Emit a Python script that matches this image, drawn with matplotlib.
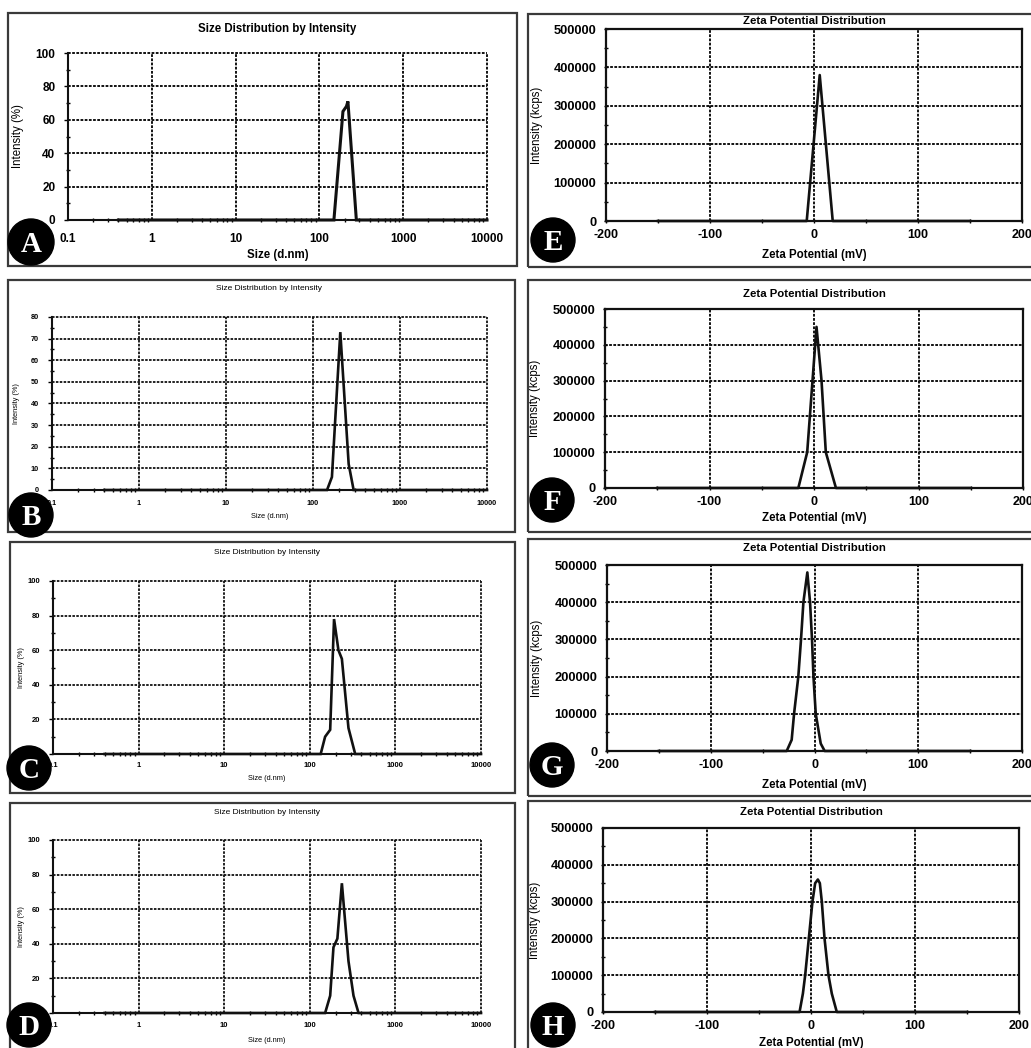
import matplotlib
matplotlib.use("Agg")
import matplotlib.pyplot as plt
from matplotlib.patches import Rectangle, Ellipse
from matplotlib.ticker import FixedLocator, MultipleLocator, LogLocator, NullFormatter, FuncFormatter

plt.rcParams['font.family'] = ['Liberation Sans', 'DejaVu Sans']
plt.rcParams['axes.unicode_minus'] = False

# ---------------- data ----------------
# Size distribution by intensity (DLS): hydrodynamic diameter (d.nm) vs intensity (%)
size_A = [0.4, 149, 191, 210, 219, 276, 10000]
int_A = [0, 0, 65, 68, 71, 0, 0]

size_B = [0.4, 145, 165, 206, 257, 293, 10000]
int_B = [0, 0, 6, 73, 12, 0, 0]

size_C = [0.4, 134, 151, 173, 192, 216, 237, 283, 339, 10000]
int_C = [0, 0, 10, 14, 78, 60, 55, 15, 0, 0]

size_D = [0.4, 151, 173, 189, 210, 237, 283, 324, 371, 10000]
int_D = [0, 0, 10, 38, 43, 75, 30, 10, 0, 0]

# Zeta potential distribution: zeta potential (mV) vs intensity (kcps)
zeta_E = [-150, -7, 5.5, 18, 150]
kcps_E = [0, 0, 380000, 0, 0]

zeta_F = [-150, -15, -6.5, 2.4, 7.2, 11.3, 21, 150]
kcps_F = [0, 0, 100000, 450000, 300000, 100000, 0, 0]

zeta_G = [-150, -26.8, -22, -19.7, -15.6, -13, -10.7, -6.9, -4.3, -2.4, -1, 1.2, 6, 9.8, 150]
kcps_G = [0, 0, 30000, 100000, 200000, 300000, 400000, 480000, 400000, 300000, 200000,
          100000, 20000, 0, 0]

zeta_H = [-150, -11, -7.8, -5.6, -2.1, 1.4, 4, 6.6, 8.5, 10.4, 13, 16.8, 20, 24.8, 150]
kcps_H = [0, 0, 50000, 100000, 200000, 300000, 350000, 360000, 350000, 300000, 200000,
          100000, 50000, 0, 0]

size_ticks = [0.1, 1, 10, 100, 1000, 10000]
size_tick_labels = ['0.1', '1', '10', '100', '1000', '10000']
zeta_ticks = [-200, -100, 0, 100, 200]
zeta_tick_labels = ['-200', '-100', '0', '100', '200']

# ---------------- figure ----------------
W, H = 1031, 1048
fig = plt.figure(figsize=(W / 100, H / 100), dpi=100)
fig.patch.set_facecolor('white')

INK = '#111111'
GRID_DASH = (0, (1.4, 0.75))


def add_axes_px(l, t, r, b):
    return fig.add_axes([l / W, 1 - b / H, (r - l) / W, (b - t) / H])


def frame(l, t, r, b):
    fig.add_artist(Rectangle((l / W, 1 - b / H), (r - l) / W, (b - t) / H,
                             transform=fig.transFigure, fill=False,
                             ec='#3a3a3a', lw=1.6, zorder=5))


def badge(cx, cy, letter, r=22, fs=21):
    fig.add_artist(Ellipse((cx / W, 1 - cy / H), 2 * r / W, 2 * r / H,
                           transform=fig.transFigure, fc='black', ec='black',
                           zorder=20))
    cap = fs * 100 / 72 * 0.66
    fig.text(cx / W, 1 - (cy + cap / 2) / H, letter, color='white',
             family=['Liberation Serif', 'DejaVu Serif'], weight='bold',
             size=fs, ha='center', va='baseline', zorder=21)


def unclip_grid(ax):
    # keep the gridlines that sit on the plot edges at full width
    for line in ax.get_xgridlines() + ax.get_ygridlines():
        line.set_clip_on(False)


def place_labels(ax, l, t, r, b, title, title_y, title_fs, title_w,
                 xlabel, xlabel_y, ylabel, ylabel_x, lab_fs, xlab_w, ylab_w):
    ax.set_title(title, fontsize=title_fs, weight=title_w,
                 y=(b - title_y) / (b - t), va='center', pad=0)
    ax.set_xlabel(xlabel, fontsize=lab_fs, weight=xlab_w, va='center')
    ax.xaxis.set_label_coords(0.5, (b - xlabel_y) / (b - t))
    ax.set_ylabel(ylabel, fontsize=lab_fs, weight=ylab_w, va='center')
    ax.yaxis.set_label_coords((ylabel_x - l) / (r - l), 0.5)


def size_panel(axbox, sizes, intens, ymax, ystep, yminor, tick_fs, lw, grid_lw,
               xpad, ypad, title_y, title_fs, title_w, xlabel_y, ylabel_x,
               lab_fs, xlab_w):
    l, t, r, b = axbox
    ax = add_axes_px(l, t, r, b)
    ax.set_xscale('log')
    ax.set_xlim(0.1, 10000)
    ax.set_ylim(0, ymax)
    ax.plot(sizes, intens, color=INK, lw=lw, solid_joinstyle='miter', zorder=4,
            clip_on=False)
    ax.xaxis.set_major_locator(FixedLocator(size_ticks))
    ax.set_xticklabels(size_tick_labels)
    ax.xaxis.set_minor_locator(LogLocator(base=10, subs=[2, 3, 4, 5, 6, 7, 8, 9]))
    ax.xaxis.set_minor_formatter(NullFormatter())
    ax.yaxis.set_major_locator(MultipleLocator(ystep))
    ax.yaxis.set_minor_locator(MultipleLocator(yminor))
    ax.tick_params(axis='x', which='major', length=0, pad=xpad, labelsize=tick_fs)
    ax.tick_params(axis='y', which='major', length=3, width=1.0, direction='out',
                   pad=ypad, labelsize=tick_fs)
    ax.tick_params(which='minor', length=2.5, width=1.0, direction='inout')
    for lab in ax.get_xticklabels() + ax.get_yticklabels():
        lab.set_fontweight('bold')
    ax.grid(which='major', ls=GRID_DASH, lw=grid_lw, color=INK)
    unclip_grid(ax)
    for s in ('top', 'right'):
        ax.spines[s].set_visible(False)
    for s in ('left', 'bottom'):
        ax.spines[s].set_linewidth(1.5)
        ax.spines[s].set_color(INK)
    place_labels(ax, l, t, r, b, 'Size Distribution by Intensity', title_y,
                 title_fs, title_w, 'Size (d.nm)', xlabel_y, 'Intensity (%)',
                 ylabel_x, lab_fs, xlab_w, 'normal')
    return ax


def zeta_panel(axbox, zeta, kcps, title_y, xlabel_y, ylabel_x):
    l, t, r, b = axbox
    ax = add_axes_px(l, t, r, b)
    ax.set_xlim(-200, 200)
    ax.set_ylim(0, 500000)
    ax.plot(zeta, kcps, color=INK, lw=1.9, zorder=4, clip_on=False)
    ax.xaxis.set_major_locator(FixedLocator(zeta_ticks))
    ax.set_xticklabels(zeta_tick_labels)
    ax.xaxis.set_minor_locator(MultipleLocator(50))
    ax.yaxis.set_major_locator(MultipleLocator(100000))
    ax.yaxis.set_minor_locator(MultipleLocator(50000))
    ax.yaxis.set_major_formatter(FuncFormatter(lambda v, p: f'{int(round(v))}'))
    ax.tick_params(axis='x', which='major', length=3, width=1.0, direction='inout',
                   pad=4.5, labelsize=9)
    ax.tick_params(axis='y', which='major', length=3, width=1.0, direction='inout',
                   pad=5.5, labelsize=9.3)
    ax.tick_params(which='minor', length=2.5, width=1.0, direction='inout')
    for lab in ax.get_xticklabels() + ax.get_yticklabels():
        lab.set_fontweight('bold')
    ax.grid(which='major', ls=GRID_DASH, lw=1.4, color=INK)
    for s in ax.spines.values():
        s.set_linewidth(1.6)
        s.set_color(INK)
    place_labels(ax, l, t, r, b, 'Zeta Potential Distribution', title_y, 8.2,
                 'bold', 'Zeta Potential (mV)', xlabel_y, 'Intensity (kcps)',
                 ylabel_x, 8.3, 'bold', 'normal')
    return ax


# ---------------- left column: size distributions ----------------
frame(8, 13, 517, 266)
size_panel((68, 53, 487, 220), size_A, int_A, 100, 20, 10, 8.5, 2.2, 1.4,
           9.0, 6.0, 29, 8.3, 'bold', 255, 18, 8.3, 'bold')
badge(31, 242, 'A', r=23)

frame(8, 280, 515, 532)
size_panel((52, 317, 487, 490), size_B, int_B, 80, 10, 5, 5.2, 1.9, 1.3,
           7.0, 6.5, 289, 6.0, 'normal', 517, 16, 5.3, 'normal')
badge(31, 515, 'B')

frame(10, 542, 515, 793)
size_panel((53, 581, 481, 754), size_C, int_C, 100, 20, 10, 5.5, 1.9, 1.3,
           6.0, 6.0, 553, 6.0, 'normal', 779, 21, 5.3, 'normal')
badge(29, 768, 'C')

frame(10, 803, 515, 1052)
size_panel((53, 840, 481, 1013), size_D, int_D, 100, 20, 10, 5.5, 1.9, 1.3,
           6.5, 6.0, 812, 6.0, 'normal', 1040, 21, 5.3, 'normal')
badge(29, 1025, 'D')

# ---------------- right column: zeta potential ----------------
frame(528, 14, 1040, 267)
zeta_panel((606, 29, 1022, 221), zeta_E, kcps_E, 21, 255, 537)
badge(553, 240, 'E')

frame(528, 280, 1040, 532)
zeta_panel((605, 309, 1023, 488), zeta_F, kcps_F, 294, 518, 535)
badge(552, 500, 'F')

frame(528, 539, 1040, 796)
zeta_panel((607, 565, 1022, 751), zeta_G, kcps_G, 548, 785, 537)
badge(552, 765, 'G')

frame(528, 801, 1040, 1052)
zeta_panel((603, 828, 1019, 1012), zeta_H, kcps_H, 812, 1043, 535)
badge(553, 1025, 'H')

fig.savefig('out.png', dpi=100, facecolor='white')
